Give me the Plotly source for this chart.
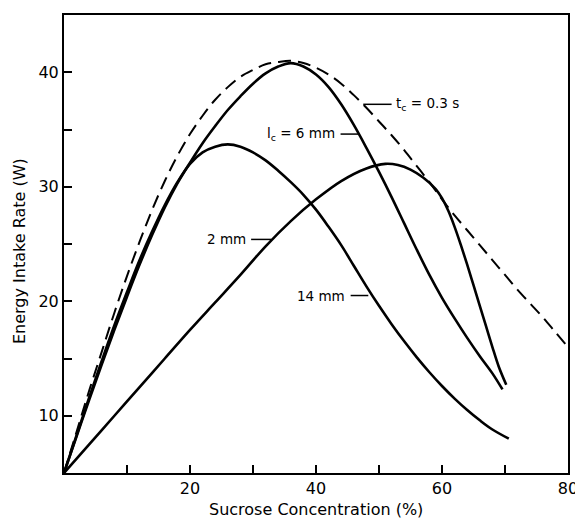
import plotly.graph_objects as go

# t_c = 0.3 s (dashed envelope)
tc_x = [0, 2, 4, 6, 8, 10, 12, 14, 16, 18, 20, 22, 24, 26, 28, 30, 32, 34, 36, 38, 40, 42, 44, 46, 48, 50,
        52, 54, 56, 58, 60, 62, 64, 66, 68, 70, 72, 74, 76, 78, 80]
tc_y = [5, 8.6, 12.2, 15.6, 19.0, 22.2, 25.2, 28.0, 30.5, 32.7, 34.6, 36.2, 37.6, 38.7, 39.6, 40.2, 40.7, 40.9,
        41.0, 40.8, 40.4, 39.8, 39.0, 38.0, 36.9, 35.7, 34.5, 33.2, 31.8, 30.4, 28.9, 27.5, 26.2, 24.9, 23.6,
        22.3, 21.0, 19.8, 18.6, 17.3, 16.0]

# l_c = 6 mm
c6_x = [0, 2, 4, 6, 8, 10, 12, 14, 16, 18, 20, 22, 24, 26, 28, 30, 32, 34, 36, 38, 40, 42, 44, 46, 48, 50,
        52, 54, 56, 58, 60, 62, 64, 66, 68, 69.6]
c6_y = [5, 8.2, 11.4, 14.5, 17.5, 20.4, 23.2, 25.8, 28.2, 30.3, 32.1, 33.8, 35.3, 36.7, 37.9, 39.0, 39.9, 40.5,
        40.8, 40.5, 39.8, 38.7, 37.2, 35.4, 33.4, 31.3, 29.1, 26.8, 24.5, 22.3, 20.3, 18.5, 16.8, 15.2, 13.7, 12.3]

# 14 mm
c14_x = [0, 2, 4, 6, 8, 10, 12, 14, 16, 18, 20, 22, 24, 26, 28, 30, 32, 34, 36, 38, 40, 42, 44, 46, 48, 50,
         52, 54, 56, 58, 60, 62, 64, 66, 68, 70.6]
c14_y = [5, 8.3, 11.6, 14.8, 17.9, 20.8, 23.6, 26.1, 28.4, 30.4, 32.0, 33.0, 33.5, 33.7, 33.5, 33.0, 32.3, 31.4,
         30.4, 29.3, 28.0, 26.5, 24.9, 23.1, 21.3, 19.6, 18.0, 16.5, 15.1, 13.8, 12.6, 11.5, 10.5, 9.6, 8.8, 8.0]

# 2 mm
c2_x = [0, 4, 8, 12, 16, 20, 24, 28, 32, 36, 40, 44, 48, 51, 53, 55, 57, 59, 60, 61, 62, 63, 64, 65, 66, 67,
        68, 69, 70.2]
c2_y = [5, 7.5, 10.0, 12.5, 15.0, 17.5, 19.9, 22.3, 24.8, 27.0, 28.9, 30.5, 31.6, 32.0, 31.9, 31.5, 30.8, 29.8,
        29.0, 27.9, 26.5, 24.9, 23.2, 21.4, 19.6, 17.8, 16.0, 14.3, 12.7]

x_tickvals = [20, 40, 60, 80]
y_tickvals = [10, 20, 30, 40]

FONT = "DejaVu Sans"

fig = go.Figure()
fig.add_trace(go.Scatter(x=tc_x, y=tc_y, mode="lines",
                         line=dict(color="black", width=2, dash="13px,7px", shape="spline", smoothing=1.0)))
for xs, ys in [(c6_x, c6_y), (c14_x, c14_y), (c2_x, c2_y)]:
    fig.add_trace(go.Scatter(x=xs, y=ys, mode="lines",
                             line=dict(color="black", width=2.6, shape="spline", smoothing=1.0)))

# labels with leader lines
labels = [
    ("t<sub>c</sub> = 0.3 s", 52.4, 37.2, "left", (47.5, 52.0, 37.2)),
    ("l<sub>c</sub> = 6 mm", 43.3, 34.6, "right", (43.9, 46.8, 34.6)),
    ("2 mm", 29.2, 25.4, "right", (29.7, 32.9, 25.4)),
    ("14 mm", 44.9, 20.5, "right", (45.5, 48.3, 20.5)),
]
for text, x, y, anchor, (lx0, lx1, ly) in labels:
    fig.add_annotation(x=x, y=y, text=text, showarrow=False, xanchor=anchor, yanchor="middle",
                       font=dict(family=FONT, size=13.5, color="black"))
    fig.add_shape(type="line", x0=lx0, x1=lx1, y0=ly, y1=ly, line=dict(color="black", width=1.5))

# axis titles
fig.add_annotation(text="Sucrose Concentration (%)", xref="paper", yref="paper", x=0.5, y=-0.079,
                   xanchor="center", yanchor="middle", showarrow=False,
                   font=dict(family=FONT, size=16, color="black"))
fig.add_annotation(text="Energy Intake Rate (W)", xref="paper", yref="paper", x=-0.087, y=0.485,
                   xanchor="center", yanchor="middle", showarrow=False, textangle=-90,
                   font=dict(family=FONT, size=16, color="black"))

# the page body adds an 8px offset; size the figure so the plot area lands where the reference has it
fig.update_layout(
    width=575, height=513,
    margin=dict(l=56, r=12, t=5, b=48),
    paper_bgcolor="white", plot_bgcolor="white",
    showlegend=False,
    font=dict(family=FONT, size=16, color="black"),
)
fig.update_xaxes(range=[0, 80], tickvals=x_tickvals, ticks="inside", ticklen=8, tickwidth=2,
                 tickcolor="black", showline=True, linewidth=2, linecolor="black", mirror=True,
                 showgrid=False, zeroline=False,
                 minor=dict(dtick=10, tick0=0, ticks="inside", ticklen=8, tickwidth=2, tickcolor="black", showgrid=False))
fig.update_yaxes(range=[5, 45], tickvals=y_tickvals, ticks="inside", ticklen=8, tickwidth=2,
                 tickcolor="black", showline=True, linewidth=2, linecolor="black", mirror=True,
                 showgrid=False, zeroline=False,
                 minor=dict(dtick=5, tick0=0, ticks="inside", ticklen=8, tickwidth=2, tickcolor="black", showgrid=False))

fig.write_html("out.html")
